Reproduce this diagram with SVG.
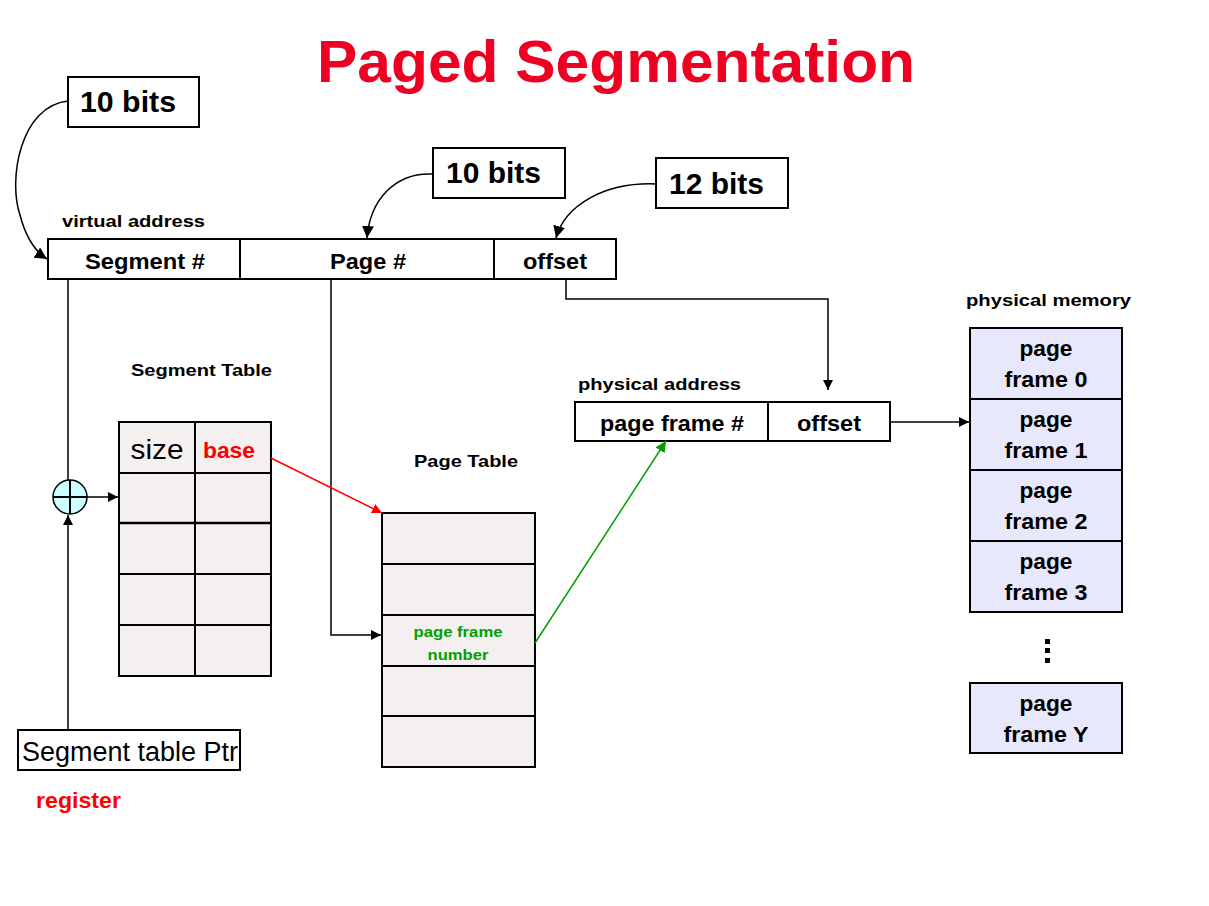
<svg xmlns="http://www.w3.org/2000/svg" width="1209" height="906" viewBox="0 0 1209 906">
<defs>
<style>
text{font-family:"Liberation Sans",Arial,sans-serif}
.lbl{font-size:17px;font-weight:bold;fill:#000}
.fld{font-size:22px;font-weight:bold;fill:#000;text-anchor:middle}
.bits{font-size:30px;font-weight:bold;fill:#000}
.box{fill:#fff;stroke:#000;stroke-width:2}
.tbl{fill:#f4f0f0;stroke:#000;stroke-width:2}
.mem{fill:#e8e8fc;stroke:#000;stroke-width:2}
.ln{fill:none;stroke:#000;stroke-width:1.5}
</style>
<marker id="ab" viewBox="0 0 10 10" refX="10" refY="5" markerWidth="10" markerHeight="10" markerUnits="userSpaceOnUse" orient="auto"><path d="M0,0 L10,5 L0,10 z" fill="#000"/></marker>
<marker id="ar" viewBox="0 0 10 10" refX="10" refY="5" markerWidth="10" markerHeight="10" markerUnits="userSpaceOnUse" orient="auto"><path d="M0,0 L10,5 L0,10 z" fill="#f00"/></marker>
<marker id="ag" viewBox="0 0 10 10" refX="10" refY="5" markerWidth="11" markerHeight="11" markerUnits="userSpaceOnUse" orient="auto"><path d="M0,0 L10,5 L0,10 z" fill="#00a000"/></marker>
<marker id="ac" viewBox="0 0 10 10" refX="10" refY="5" markerWidth="12" markerHeight="12" markerUnits="userSpaceOnUse" orient="auto"><path d="M0,0 L10,5 L0,10 z" fill="#000"/></marker>
</defs>
<rect width="1209" height="906" fill="#fff"/>
<text x="616" y="82" text-anchor="middle" font-size="60" font-weight="bold" fill="#ee0022" textLength="598" lengthAdjust="spacingAndGlyphs">Paged Segmentation</text>

<g id="bits1"><rect class="box" x="68" y="77" width="131" height="50" stroke-width="1.5"/><text class="bits" x="80" y="112" textLength="96" lengthAdjust="spacingAndGlyphs">10 bits</text></g>
<g id="bits2"><rect class="box" x="433" y="148" width="132" height="50" stroke-width="1.5"/><text class="bits" x="446" y="183" textLength="95" lengthAdjust="spacingAndGlyphs">10 bits</text></g>
<g id="bits3"><rect class="box" x="656" y="158" width="132" height="50" stroke-width="1.5"/><text class="bits" x="669" y="194" textLength="95" lengthAdjust="spacingAndGlyphs">12 bits</text></g>

<g id="virtual-address">
<text class="lbl" x="62" y="227" textLength="143" lengthAdjust="spacingAndGlyphs">virtual address</text>
<rect class="box" x="48" y="239" width="568" height="40"/>
<line x1="240" y1="239" x2="240" y2="279" stroke="#000" stroke-width="2"/>
<line x1="494" y1="239" x2="494" y2="279" stroke="#000" stroke-width="2"/>
<text class="fld" x="145" y="269" textLength="120" lengthAdjust="spacingAndGlyphs">Segment #</text>
<text class="fld" x="368" y="269" textLength="76" lengthAdjust="spacingAndGlyphs">Page #</text>
<text class="fld" x="555" y="269" textLength="64" lengthAdjust="spacingAndGlyphs">offset</text>
</g>

<g id="segment-table">
<text class="lbl" x="131" y="376" textLength="141" lengthAdjust="spacingAndGlyphs">Segment Table</text>
<rect class="tbl" x="119" y="422" width="152" height="254"/>
<line x1="195" y1="422" x2="195" y2="676" stroke="#000" stroke-width="2"/>
<line x1="119" y1="473" x2="271" y2="473" stroke="#000" stroke-width="2"/>
<line x1="119" y1="523" x2="271" y2="523" stroke="#000" stroke-width="2.5"/>
<line x1="119" y1="574" x2="271" y2="574" stroke="#000" stroke-width="2"/>
<line x1="119" y1="625" x2="271" y2="625" stroke="#000" stroke-width="2"/>
<text x="157" y="459" text-anchor="middle" font-size="27" fill="#000" textLength="53" lengthAdjust="spacingAndGlyphs">size</text>
<text x="229" y="458" text-anchor="middle" font-size="22" font-weight="bold" fill="#f00" textLength="52" lengthAdjust="spacingAndGlyphs">base</text>
</g>

<g id="adder">
<circle cx="70" cy="497" r="17" fill="#ccffff" stroke="#000" stroke-width="1.5"/>
<line x1="53" y1="497" x2="87" y2="497" stroke="#000" stroke-width="2"/>
<line x1="70" y1="480" x2="70" y2="514" stroke="#000" stroke-width="2"/>
</g>

<g id="segment-table-ptr">
<rect class="box" x="18" y="730" width="222" height="40"/>
<text x="130" y="761" text-anchor="middle" font-size="27" fill="#000" textLength="216" lengthAdjust="spacingAndGlyphs">Segment table Ptr</text>
<text x="36" y="808" font-size="22" font-weight="bold" fill="#f00" textLength="85" lengthAdjust="spacingAndGlyphs">register</text>
</g>

<g id="page-table">
<text class="lbl" x="414" y="467" textLength="104" lengthAdjust="spacingAndGlyphs">Page Table</text>
<rect class="tbl" x="382" y="513" width="153" height="254"/>
<line x1="382" y1="564" x2="535" y2="564" stroke="#000" stroke-width="2"/>
<line x1="382" y1="615" x2="535" y2="615" stroke="#000" stroke-width="2"/>
<line x1="382" y1="666" x2="535" y2="666" stroke="#000" stroke-width="2"/>
<line x1="382" y1="716" x2="535" y2="716" stroke="#000" stroke-width="2"/>
<text x="458" y="637" text-anchor="middle" font-size="15" font-weight="bold" fill="#00a000" textLength="89" lengthAdjust="spacingAndGlyphs">page frame</text>
<text x="458" y="660" text-anchor="middle" font-size="15" font-weight="bold" fill="#00a000" textLength="61" lengthAdjust="spacingAndGlyphs">number</text>
</g>

<g id="physical-address">
<text class="lbl" x="578" y="390" textLength="163" lengthAdjust="spacingAndGlyphs">physical address</text>
<rect class="box" x="575" y="402" width="315" height="39"/>
<line x1="768" y1="402" x2="768" y2="441" stroke="#000" stroke-width="2"/>
<text class="fld" x="672" y="431" textLength="144" lengthAdjust="spacingAndGlyphs">page frame #</text>
<text class="fld" x="829" y="431" textLength="64" lengthAdjust="spacingAndGlyphs">offset</text>
</g>

<g id="physical-memory">
<text class="lbl" x="966" y="306" textLength="165" lengthAdjust="spacingAndGlyphs">physical memory</text>
<rect class="mem" x="970" y="328" width="152" height="71"/>
<rect class="mem" x="970" y="399" width="152" height="71"/>
<rect class="mem" x="970" y="470" width="152" height="71"/>
<rect class="mem" x="970" y="541" width="152" height="71"/>
<rect class="mem" x="970" y="683" width="152" height="70"/>
<text class="fld" x="1046" y="356" textLength="53" lengthAdjust="spacingAndGlyphs">page</text><text class="fld" x="1046" y="387" textLength="83" lengthAdjust="spacingAndGlyphs">frame 0</text>
<text class="fld" x="1046" y="427" textLength="53" lengthAdjust="spacingAndGlyphs">page</text><text class="fld" x="1046" y="458" textLength="83" lengthAdjust="spacingAndGlyphs">frame 1</text>
<text class="fld" x="1046" y="498" textLength="53" lengthAdjust="spacingAndGlyphs">page</text><text class="fld" x="1046" y="529" textLength="83" lengthAdjust="spacingAndGlyphs">frame 2</text>
<text class="fld" x="1046" y="569" textLength="53" lengthAdjust="spacingAndGlyphs">page</text><text class="fld" x="1046" y="600" textLength="83" lengthAdjust="spacingAndGlyphs">frame 3</text>
<text class="fld" x="1046" y="711" textLength="53" lengthAdjust="spacingAndGlyphs">page</text><text class="fld" x="1046" y="742" textLength="85" lengthAdjust="spacingAndGlyphs">frame Y</text>
<rect x="1045" y="639" width="5" height="5" fill="#000"/>
<rect x="1045" y="648" width="5" height="5" fill="#000"/>
<rect x="1045" y="658" width="5" height="5" fill="#000"/>
</g>

<g id="connectors">
<path class="ln" d="M68,101 C20,106 8,180 20,215 C26,238 36,252 47,259" marker-end="url(#ac)"/>
<path class="ln" d="M433,174 C395,172 370,200 367,238" marker-end="url(#ac)"/>
<path class="ln" d="M656,184 C605,182 565,205 556,238" marker-end="url(#ac)"/>
<line class="ln" x1="68" y1="279" x2="68" y2="480"/>
<line class="ln" x1="87" y1="497" x2="118" y2="497" marker-end="url(#ab)"/>
<line class="ln" x1="68" y1="729" x2="68" y2="515" marker-end="url(#ab)"/>
<polyline class="ln" points="331,279 331,635 381,635" marker-end="url(#ab)"/>
<polyline class="ln" points="566,279 566,299 828,299 828,390" marker-end="url(#ab)"/>
<line class="ln" x1="890" y1="422" x2="969" y2="422" marker-end="url(#ab)"/>
<line x1="271" y1="458" x2="382" y2="513" stroke="#f00" stroke-width="1.5" marker-end="url(#ar)"/>
<line x1="535" y1="643" x2="666" y2="441" stroke="#00a000" stroke-width="1.5" marker-end="url(#ag)"/>
</g>
</svg>
